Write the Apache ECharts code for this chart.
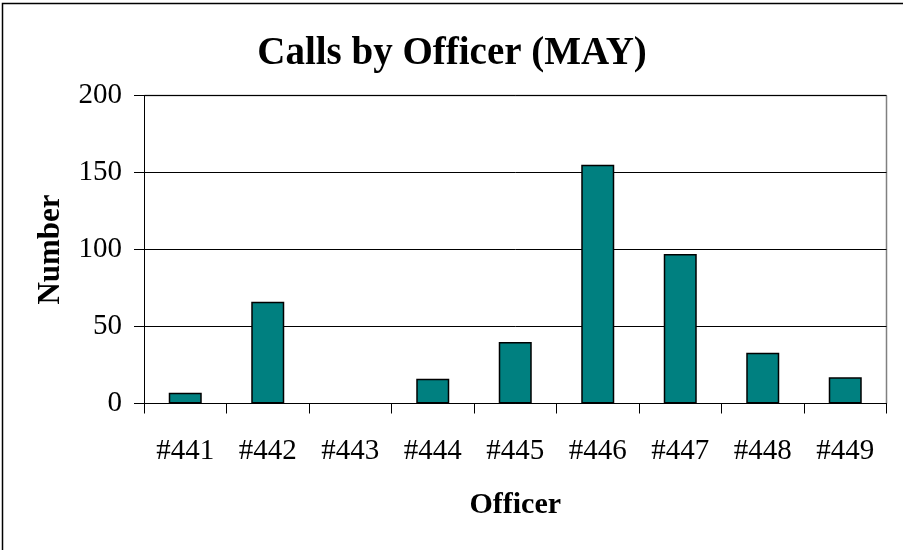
<!DOCTYPE html>
<html><head><meta charset="utf-8">
<script src="https://cdn.jsdelivr.net/npm/echarts@6/dist/echarts.min.js"></script>
<style>html,body{margin:0;padding:0;background:#fff}#c{width:903px;height:550px}</style>
</head><body><div id="c"></div>
<script>
const categories = ['#441','#442','#443','#444','#445','#446','#447','#448','#449'];
const calls = [7, 66, 0, 16, 40, 155, 97, 33, 17];
const yTicks = [0, 50, 100, 150, 200];
const titleText = 'Calls by Officer (MAY)';
const xName = 'Officer';
const yName = 'Number';

const serif = 'Liberation Serif';
const chart = echarts.init(document.getElementById('c'), null, {renderer: 'canvas'});
chart.setOption({
  animation: false,
  backgroundColor: '#fff',
  graphic: [
    {type: 'rect', shape: {x: 2.5, y: 3.5, width: 910, height: 560}, style: {fill: 'none', stroke: '#000', lineWidth: 1.5}, z: -1},
    {type: 'line', shape: {x1: 144.5, y1: 95.5, x2: 886.5, y2: 95.5}, style: {stroke: '#808080', lineWidth: 1.5}},
    {type: 'line', shape: {x1: 886.5, y1: 95.5, x2: 886.5, y2: 403.5}, style: {stroke: '#808080', lineWidth: 1.5}},
    {type: 'text', x: 452, y: 34, style: {text: titleText, fontFamily: serif, fontSize: 39, fontWeight: 'bold', fill: '#000', align: 'center', verticalAlign: 'top'}}
  ],
  grid: {left: 144, right: 16.5, top: 95.5, bottom: 146.5, containLabel: false},
  xAxis: {
    type: 'category', data: categories,
    name: xName, nameLocation: 'middle', nameGap: 87,
    nameTextStyle: {fontFamily: serif, fontSize: 30, fontWeight: 'bold', color: '#000'},
    axisLine: {lineStyle: {color: '#000', width: 1}},
    axisTick: {show: true, length: 10, alignWithLabel: false, lineStyle: {color: '#000'}},
    axisLabel: {fontFamily: serif, fontSize: 29, color: '#000', margin: 33, interval: 0},
    splitLine: {show: false}
  },
  yAxis: {
    type: 'value', min: 0, max: 200, interval: 50,
    name: yName, nameLocation: 'middle', nameGap: 78, nameRotate: 90,
    nameTextStyle: {fontFamily: serif, fontSize: 31, fontWeight: 'bold', color: '#000'},
    axisLine: {show: true, lineStyle: {color: '#000', width: 1}},
    axisTick: {show: true, length: 10, lineStyle: {color: '#000'}},
    axisLabel: {fontFamily: serif, fontSize: 29, color: '#000', margin: 22,
      formatter: v => yTicks.includes(v) ? String(v) : ''},
    splitLine: {show: true, lineStyle: {color: '#000', width: 1}}
  },
  series: [{
    type: 'bar', barCategoryGap: '60%',
    data: calls.map(v => ({value: v, itemStyle: {borderWidth: v === 0 ? 0 : 1.5}})),
    itemStyle: {color: '#008080', borderColor: '#000', borderWidth: 1.5}
  }]
});
</script></body></html>
